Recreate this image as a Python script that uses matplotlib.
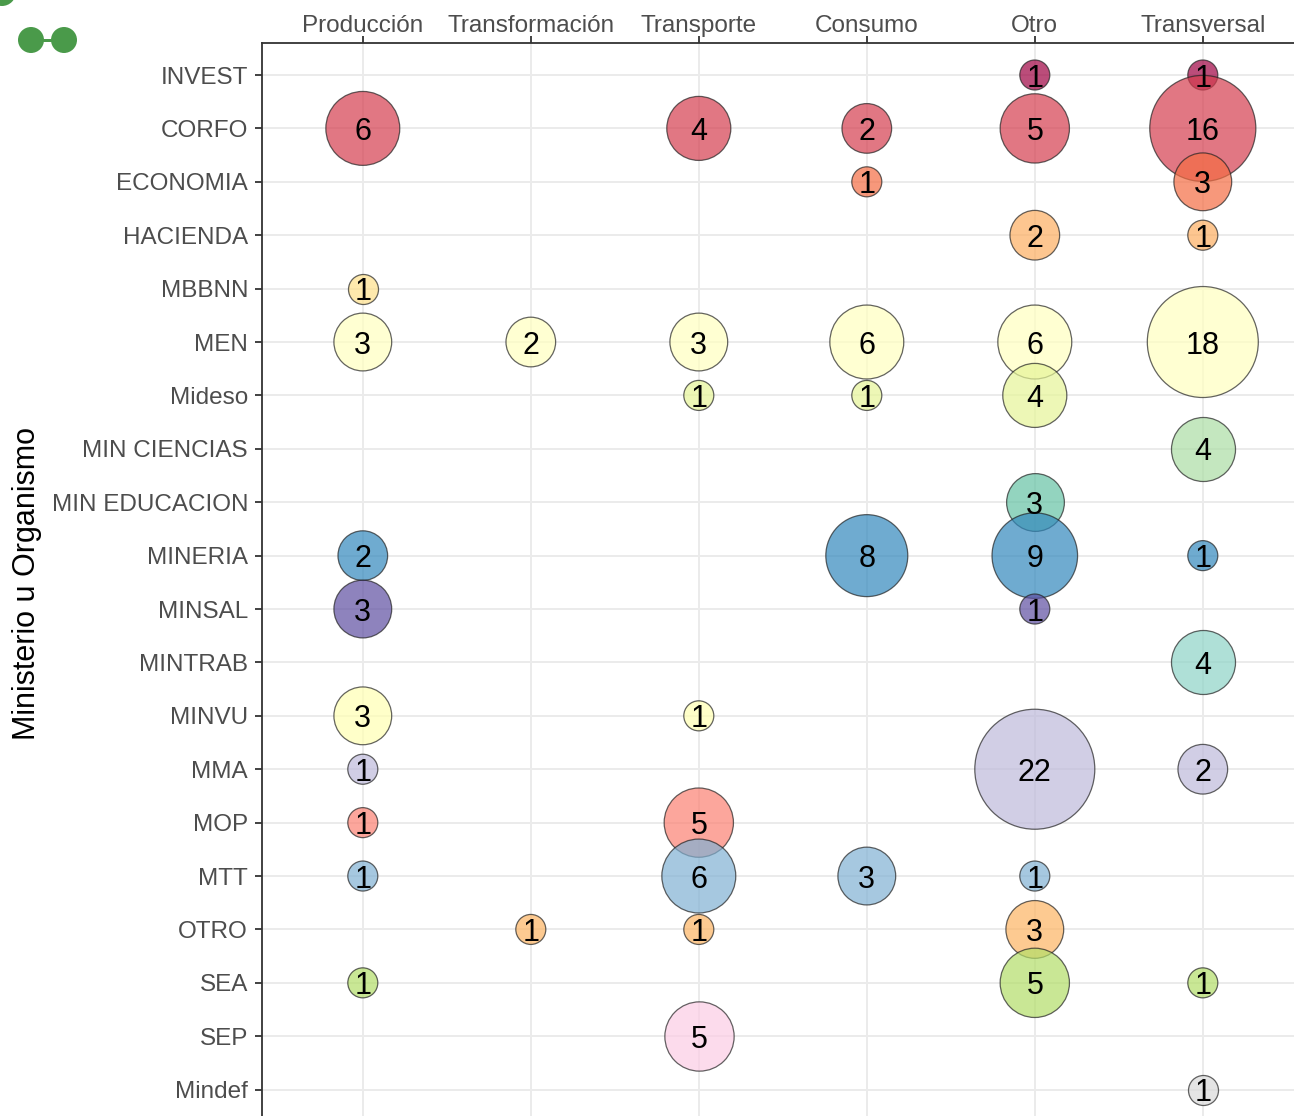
import numpy as np
import matplotlib.pyplot as plt
from matplotlib.patches import Ellipse, Rectangle

plt.rcParams['font.family'] = ['Liberation Sans', 'DejaVu Sans']

# Categories
etapas = ["Producción", "Transformación", "Transporte", "Consumo", "Otro", "Transversal"]
ministerios = ["INVEST", "CORFO", "ECONOMIA", "HACIENDA", "MBBNN", "MEN", "Mideso",
               "MIN CIENCIAS", "MIN EDUCACION", "MINERIA", "MINSAL", "MINTRAB", "MINVU",
               "MMA", "MOP", "MTT", "OTRO", "SEA", "SEP", "Mindef"]

# counts per ministry (order of etapas), 0 = none
conteos = {
    "INVEST":        [0, 0, 0, 0, 1, 1],
    "CORFO":         [6, 0, 4, 2, 5, 16],
    "ECONOMIA":      [0, 0, 0, 1, 0, 3],
    "HACIENDA":      [0, 0, 0, 0, 2, 1],
    "MBBNN":         [1, 0, 0, 0, 0, 0],
    "MEN":           [3, 2, 3, 6, 6, 18],
    "Mideso":        [0, 0, 1, 1, 4, 0],
    "MIN CIENCIAS":  [0, 0, 0, 0, 0, 4],
    "MIN EDUCACION": [0, 0, 0, 0, 3, 0],
    "MINERIA":       [2, 0, 0, 8, 9, 1],
    "MINSAL":        [3, 0, 0, 0, 1, 0],
    "MINTRAB":       [0, 0, 0, 0, 0, 4],
    "MINVU":         [3, 0, 1, 0, 0, 0],
    "MMA":           [1, 0, 0, 0, 22, 2],
    "MOP":           [1, 0, 5, 0, 0, 0],
    "MTT":           [1, 0, 6, 3, 1, 0],
    "OTRO":          [0, 1, 1, 0, 3, 0],
    "SEA":           [1, 0, 0, 0, 5, 1],
    "SEP":           [0, 0, 5, 0, 0, 0],
    "Mindef":        [0, 0, 0, 0, 0, 1],
}

# Spectral (11) + Set3 colours, one per ministry
colores = ["#9e0142", "#d53e4f", "#f46d43", "#fdae61", "#fee08b", "#ffffbf", "#e6f598",
           "#abdda4", "#66c2a5", "#3288bd", "#5e4fa2", "#8dd3c7", "#ffffb3", "#bebada",
           "#fb8072", "#80b1d3", "#fdb462", "#b3de69", "#fccde5", "#d9d9d9"]

W, H = 1294, 1116
fig = plt.figure(figsize=(W / 100, H / 100), dpi=100)
# axes extends a bit past the right/bottom edge (the original is cropped)
ax = fig.add_axes([262 / W, -0.0051, 1041.6 / W, 0.9666])

vmin, vmax = 1, 22
rmin, rmax = 15, 60  # radius in pixels

for i, m in enumerate(ministerios):
    vals = np.array(conteos[m])
    xs = np.where(vals > 0)[0]
    v = vals[xs]
    r = rmin + (rmax - rmin) * np.sqrt((v - vmin) / (vmax - vmin))
    s = (2 * r * 72 / 100) ** 2
    ax.scatter(xs, np.full(len(xs), i), s=s, c=colores[i], alpha=0.7,
               edgecolors="#222222", linewidths=0.9, zorder=3 + i * 0.01)
    for x, val in zip(xs, v):
        ax.text(x, i, str(val), ha="center", va="center_baseline", fontsize=22,
                color="black", zorder=5)

ax.set_xlim(-0.6, 5.6)
ax.set_ylim(19.6, -0.6)
ax.set_xticks(range(len(etapas)))
ax.set_xticklabels(etapas)
ax.set_yticks(range(len(ministerios)))
ax.set_yticklabels(ministerios)
ax.xaxis.tick_top()
ax.tick_params(axis="both", labelsize=17.5, labelcolor="#4d4d4d", color="#333333",
               length=5, width=1.3)
ax.tick_params(axis="x", pad=-1)
ax.tick_params(axis="y", pad=5)
ax.grid(True, color="#ebebeb", linewidth=1.4, zorder=0)
ax.set_axisbelow(True)
for side in ["right", "bottom"]:
    ax.spines[side].set_visible(False)
for side in ["top", "left"]:
    ax.spines[side].set_color("#333333")
    ax.spines[side].set_linewidth(1.3)

fig.text(27 / W, 1 - 583 / H, "Ministerio u Organismo", rotation=90,
         ha="center", va="center", fontsize=22, color="black")

# small green logo at top-left
verde = "#4a9a4a"
for cx, cy, rr in [(31, 40, 13), (64, 40, 13), (2, -8, 14)]:
    fig.patches.append(Ellipse((cx / W, 1 - cy / H), 2 * rr / W, 2 * rr / H,
                               transform=fig.transFigure, facecolor=verde, edgecolor="none"))
fig.patches.append(Rectangle((31 / W, 1 - 41.5 / H), 33 / W, 3 / H,
                             transform=fig.transFigure, facecolor=verde, edgecolor="none"))

fig.savefig("out.png", dpi=100)
